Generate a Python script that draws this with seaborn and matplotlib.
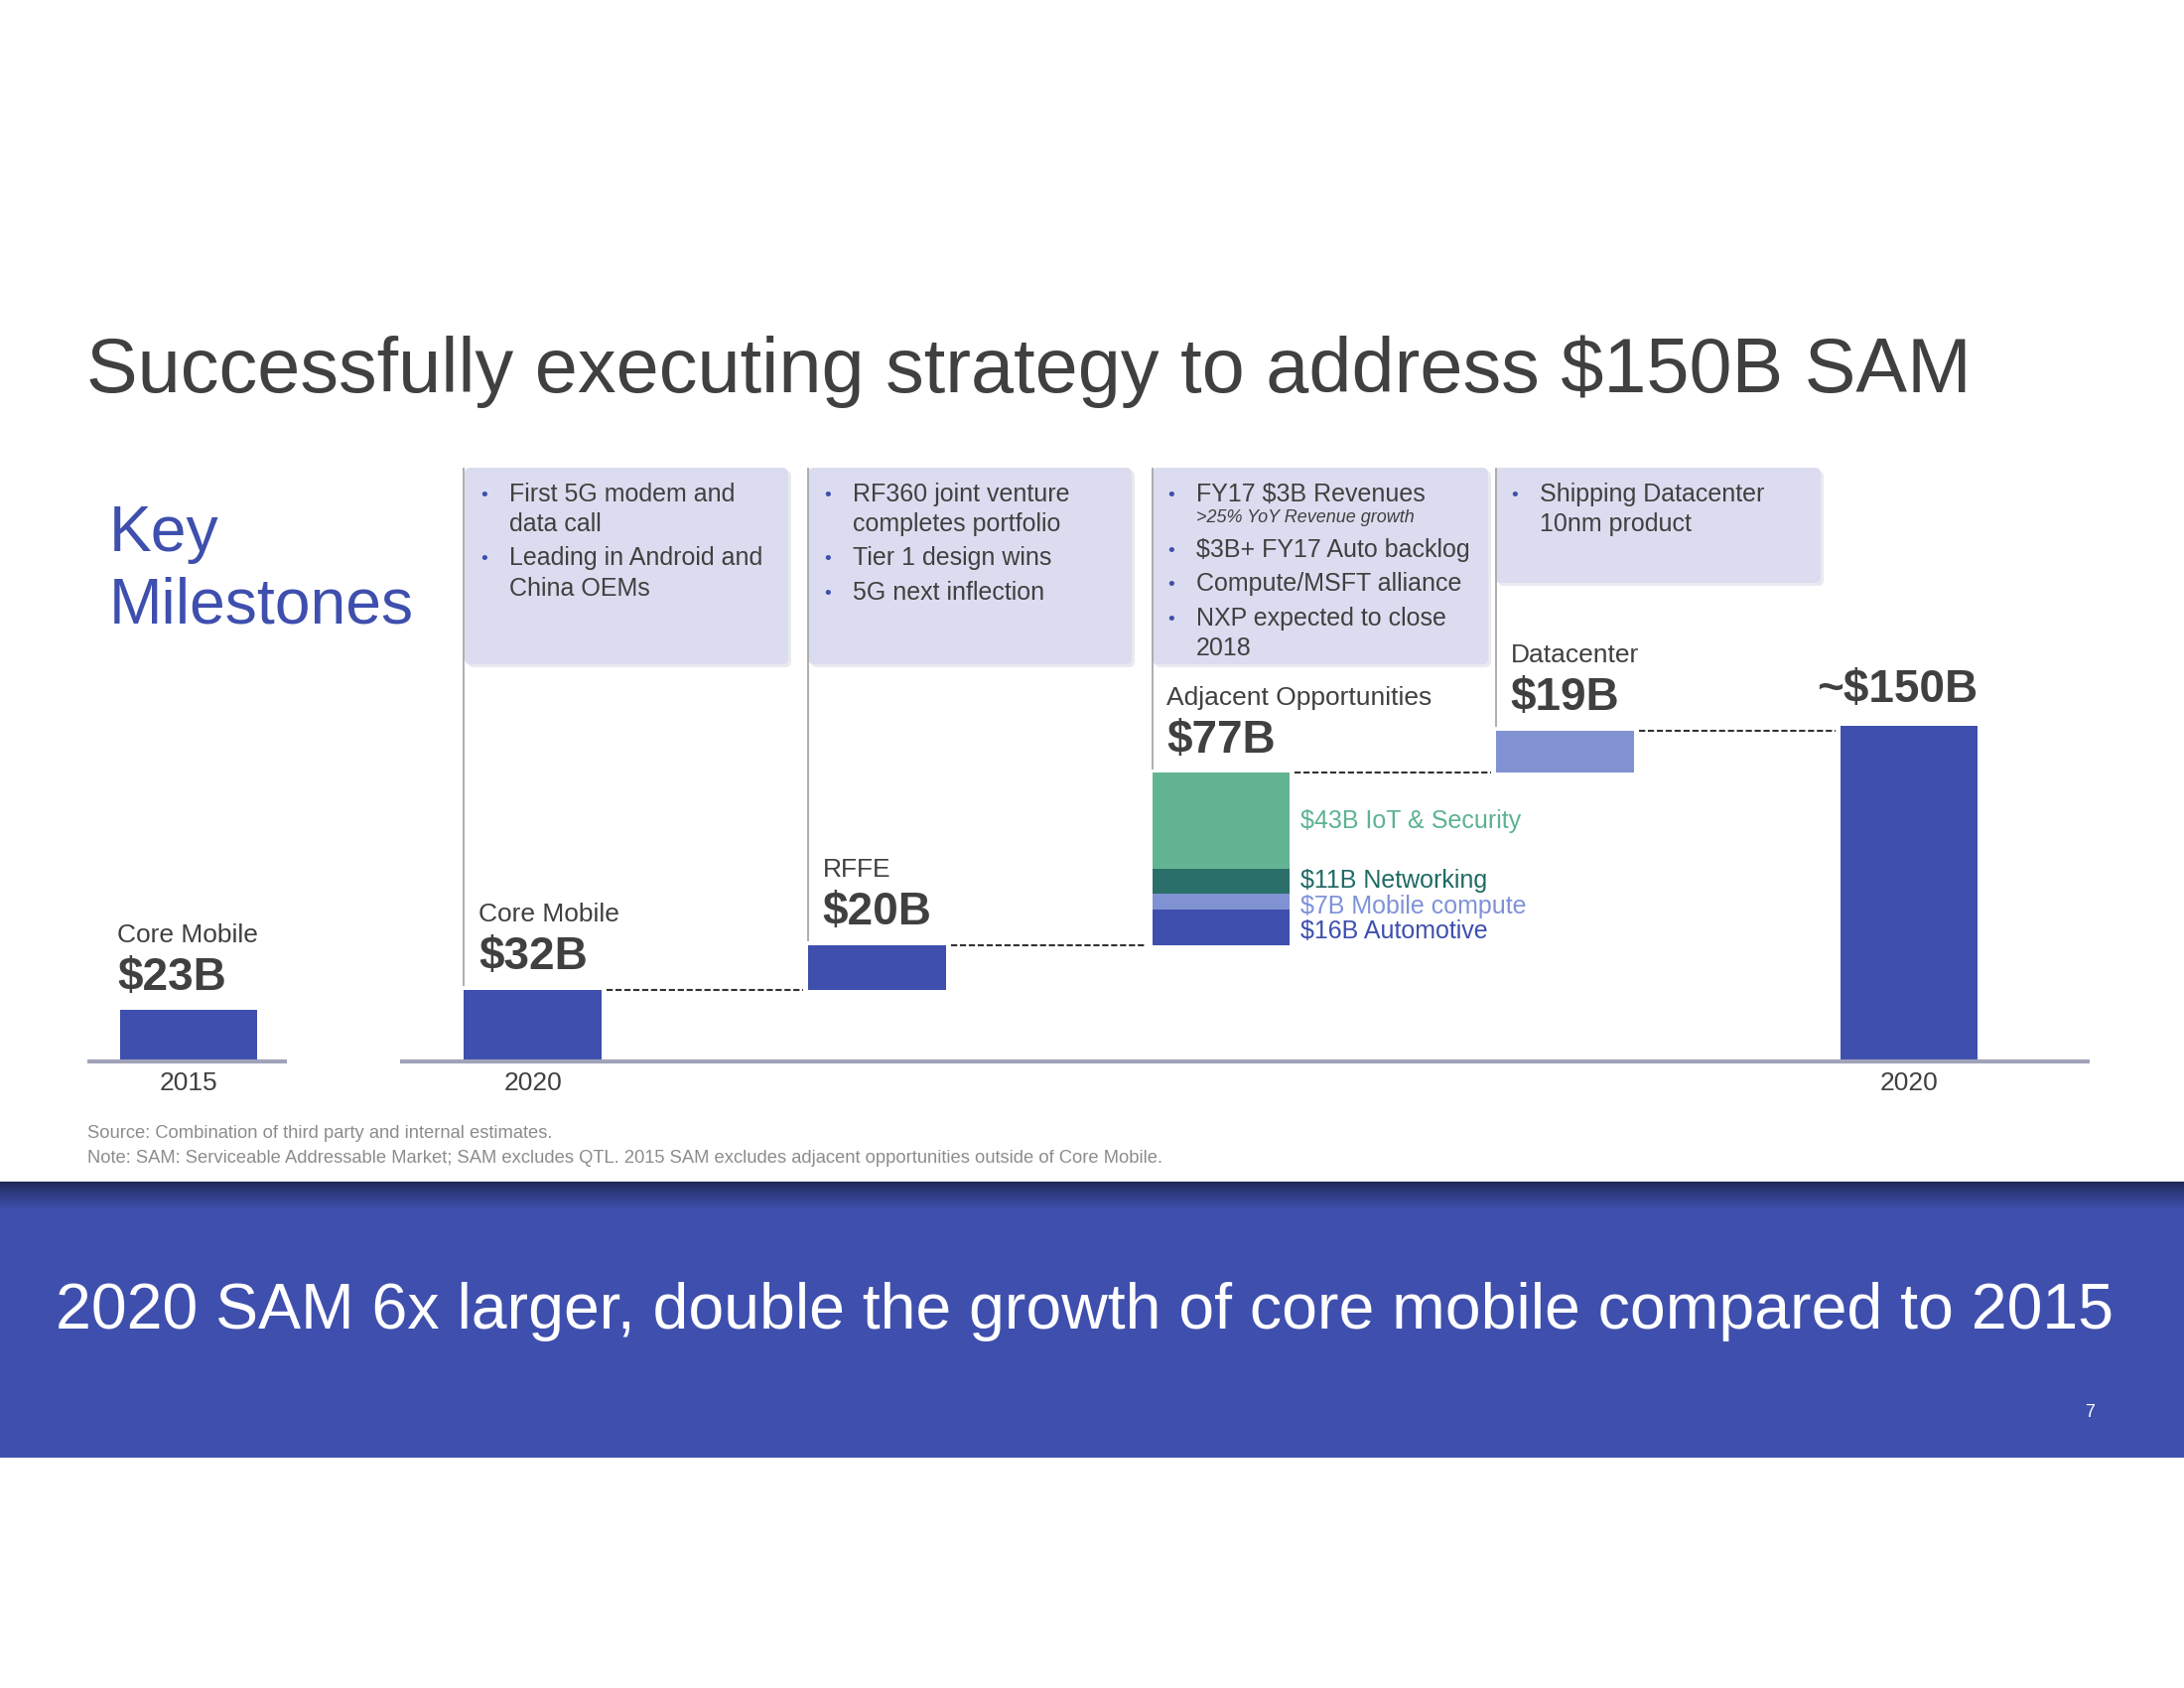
import matplotlib
matplotlib.use("Agg")
import matplotlib.pyplot as plt
from matplotlib.patches import FancyBboxPatch, Rectangle
from matplotlib.transforms import Affine2D
from matplotlib.colors import to_rgb
import numpy as np
import pandas as pd
import seaborn as sns

# ---------------- data ----------------
bar_keys = ["2015", "2020 Core", "RFFE", "Adjacent", "Datacenter", "2020 Total"]
bar_names = ["Core Mobile", "Core Mobile", "RFFE", "Adjacent Opportunities", "Datacenter", ""]
bar_values = [23, 32, 20, 77, 19, 150]
value_labels = ["$23B", "$32B", "$20B", "$77B", "$19B", "~$150B"]
year_labels = ["2015", "2020", "", "", "", "2020"]

seg_names = ["Automotive", "Mobile compute", "Networking", "IoT & Security"]
seg_values = [16, 7, 11, 43]
seg_labels = ["$16B Automotive", "$7B Mobile compute", "$11B Networking", "$43B IoT & Security"]

milestone_1 = [["First 5G modem and", "data call"], ["Leading in Android and", "China OEMs"]]
milestone_2 = [["RF360 joint venture", "completes portfolio"], ["Tier 1 design wins"], ["5G next inflection"]]
milestone_3 = [["FY17 $3B Revenues"], ["$3B+ FY17 Auto backlog"], ["Compute/MSFT alliance"],
               ["NXP expected to close", "2018"]]
milestone_3_note = ">25% YoY Revenue growth"
milestone_4 = [["Shipping Datacenter", "10nm product"]]

title = "Successfully executing strategy to address $150B SAM"
key_title = ["Key", "Milestones"]
takeaway = "2020 SAM 6x larger, double the growth of core mobile compared to 2015"
source_note = "Source: Combination of third party and internal estimates."
sam_note = ("Note: SAM: Serviceable Addressable Market; SAM excludes QTL. 2015 SAM excludes "
            "adjacent opportunities outside of Core Mobile.")
page_number = "7"

# ---------------- style ----------------
DARK = "#3E4FAD"
LIGHT = "#8092D2"
GREEN = "#62B493"
TEAL = "#2A6F6A"
SEG_COLORS = [DARK, LIGHT, TEAL, GREEN]
SEG_TEXT = ["#3E4FAD", "#7F92D8", "#1F6B64", "#5DB391"]
SEG_TEXT_SHIFT = [-3, -4, 0, 0]   # points, keeps the small labels apart
TXT = "#404040"
AXLINE = "#A0A3B8"
BOX = "#DCDCF0"
BANNER = "#3F4FAD"

sns.set_style("white")
plt.rcParams["font.family"] = ["Liberation Sans", "DejaVu Sans"]
plt.rcParams["text.parse_math"] = False

W, H = 2200, 1700
fig = plt.figure(figsize=(22, 17), dpi=100)
fig.patch.set_facecolor("white")
ax = fig.add_axes([0, 0, 1, 1])
ax.patch.set_alpha(0)
PX = Affine2D().scale(1 / W, -1 / H).translate(0, 1) + fig.transFigure

X0, DX = 190.1, 346.6   # pixel centre of first bar, pixel spacing between bars
BY, K = 1068.5, 2.25    # pixel of zero line, pixels per $B


def xd(px):
    return (px - X0) / DX


def yd(py):
    return (BY - py) / K


BAR_W = 0.4

# waterfall geometry from the data
steps = np.array(bar_values[1:5])
cum = np.cumsum(steps)                      # 32, 52, 129, 148
bottoms = np.array([0, 0, *cum[:-1], 0], dtype=float)
tops = bottoms + np.array(bar_values)

df = pd.DataFrame({"key": bar_keys, "value": bar_values, "bottom": bottoms})

common = dict(x="key", y="value", order=bar_keys, width=BAR_W, errorbar=None,
              saturation=1, linewidth=0, ax=ax)
dark_df = df[df["key"].isin(["2015", "2020 Core", "RFFE", "2020 Total"])]
sns.barplot(data=dark_df, color=DARK, bottom=dark_df["bottom"].values, **common)
dc_df = df[df["key"] == "Datacenter"]
sns.barplot(data=dc_df, color=LIGHT, bottom=dc_df["bottom"].values, **common)

adj_bottom = bottoms[3]
seg_bottoms = adj_bottom + np.cumsum(seg_values) - np.array(seg_values)
for name, v, b, c in zip(seg_names, seg_values, seg_bottoms, SEG_COLORS):
    sdf = pd.DataFrame({"key": ["Adjacent"], "value": [v]})
    sns.barplot(data=sdf, color=c, bottom=[b], **common)

# segment labels
for lab, v, b, c, s in zip(seg_labels, seg_values, seg_bottoms, SEG_TEXT, SEG_TEXT_SHIFT):
    ax.annotate(lab, (3 + BAR_W / 2, b + v / 2), xytext=(8, s), textcoords="offset points",
                ha="left", va="center", fontsize=18, color=c)

# zero lines
ax.hlines(0, xd(88), xd(289), color=AXLINE, lw=3, zorder=4)
ax.hlines(0, xd(403), xd(2105), color=AXLINE, lw=3, zorder=4)

# dashed connectors
for i, lvl in zip([1, 2, 3, 4], cum):
    ax.hlines(lvl, i + BAR_W / 2 + 0.015, i + 1 - BAR_W / 2 - 0.015, color="#333333",
              lw=1.5, linestyles=(0, (3, 1.3)), zorder=4)

# vertical guide lines from milestone boxes down to bars
for i in [1, 2, 3, 4]:
    ax.vlines(i - BAR_W / 2, tops[i] + 1.5, yd(471), color="#A8A8A8", lw=1.3, zorder=5)

# bar labels
for i in range(6):
    if i == 5:
        x, dx, ha = i + BAR_W / 2, 0, "right"
        voff = 17
    elif i == 0:
        x, dx, ha = i - BAR_W / 2, -2, "left"
        voff = 14.5
    else:
        x, dx, ha = i - BAR_W / 2, 10.5, "left"
        voff = 14.5
    ax.annotate(value_labels[i], (x, tops[i]), xytext=(dx, voff), textcoords="offset points",
                ha=ha, va="baseline", fontsize=33, fontweight="bold", color=TXT)
    if bar_names[i]:
        ax.annotate(bar_names[i], (x, tops[i]), xytext=(dx, voff + 34.5),
                    textcoords="offset points", ha=ha, va="baseline", fontsize=19, color=TXT)
    if year_labels[i]:
        ax.annotate(year_labels[i], (i, 0), xytext=(0, -21.5), textcoords="offset points",
                    ha="center", va="baseline", fontsize=19, color=TXT)

# milestone boxes
boxes = [
    (468, 794, 669, milestone_1, None),
    (814, 1140, 669, milestone_2, None),
    (1160, 1499, 669, milestone_3, milestone_3_note),
    (1506, 1834, 587, milestone_4, None),
]
for left, right, bottom, items, note in boxes:
    shadow = FancyBboxPatch((left + 3, 471 + 3), right - left, bottom - 471,
                            boxstyle="round,pad=0,rounding_size=6", transform=PX,
                            facecolor="#E9E9F0", edgecolor="none", zorder=1)
    ax.add_patch(shadow)
    box = FancyBboxPatch((left, 471), right - left, bottom - 471,
                         boxstyle="round,pad=0,rounding_size=6", transform=PX,
                         facecolor=BOX, edgecolor="none", zorder=2)
    ax.add_patch(box)
    y = 505
    for k, item in enumerate(items):
        for j, line in enumerate(item):
            if j == 0:
                ax.text(left + 16, y - 1, "•", transform=PX, fontsize=14, color=DARK,
                        ha="left", va="baseline", zorder=6)
            ax.text(left + 45, y, line, transform=PX, fontsize=18, color=TXT,
                    ha="left", va="baseline", zorder=6)
            y += 30
        y += 4.5
        if note is not None and k == 0:
            ny = y - 34.5 + 21
            ax.text(left + 45, ny, note, transform=PX, fontsize=13, style="italic",
                    color=TXT, ha="left", va="baseline", zorder=6)
            y = ny + 35

# titles
ax.text(87, 395, title, transform=PX, fontsize=55.8, color=TXT, ha="left", va="baseline")
ax.text(110, 555, key_title[0], transform=PX, fontsize=46.3, color=DARK, ha="left", va="baseline")
ax.text(110, 627, key_title[1], transform=PX, fontsize=46.3, color=DARK, ha="left", va="baseline")

# notes
ax.text(88, 1146, source_note, transform=PX, fontsize=13.2, color="#8C8C8C", ha="left", va="baseline")
ax.text(88, 1171, sam_note, transform=PX, fontsize=13.2, color="#8C8C8C", ha="left", va="baseline")

# banner
ax.add_patch(Rectangle((0, 1190), W, 278, transform=PX, facecolor=BANNER, edgecolor="none", zorder=1))
c0 = np.array(to_rgb("#1E2655"))
c1 = np.array(to_rgb(BANNER))
n = 28
for k in range(n):
    t = k / n
    ax.add_patch(Rectangle((0, 1190 + k), W, 1.2, transform=PX,
                           facecolor=tuple(c0 + (c1 - c0) * t ** 0.8), edgecolor="none", zorder=1.5))
ax.text(56, 1338, takeaway, transform=PX, fontsize=46.4, color="white", ha="left", va="baseline", zorder=3)
ax.text(2105, 1423, page_number, transform=PX, fontsize=13, color="white", ha="center", va="center", zorder=3)

ax.set_xlim(xd(0), xd(W))
ax.set_ylim(yd(H), yd(0))
ax.axis("off")

fig.savefig("out.png", dpi=100, facecolor="white")
